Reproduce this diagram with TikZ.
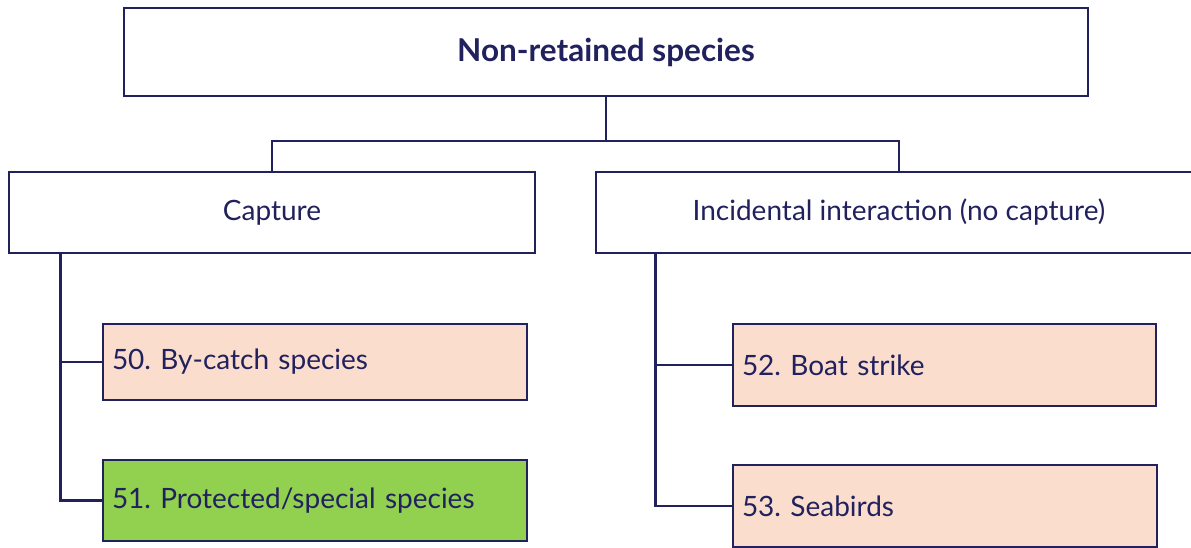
\documentclass[tikz,border=0pt]{standalone}
\usepackage{fontspec}
\setmainfont{Lato}
\usetikzlibrary{calc}
\definecolor{navy}{HTML}{21215E}
\definecolor{peach}{HTML}{FADDCD}
\definecolor{leafgreen}{HTML}{92D050}
\frenchspacing
\begin{document}
\begin{tikzpicture}[x=1pt,y=-1pt,
  box/.style={draw=navy,line width=2.8pt,fill=white,text=navy,font=\fontsize{28}{32}\selectfont,inner sep=0pt},
  leaf/.style={box,fill=peach,align=left,inner xsep=9pt},
  link/.style={draw=navy,line width=2.8pt}]
\useasboundingbox (0,0) rectangle (1191,547);
\node[box,minimum width=964pt,minimum height=88pt,font=\fontsize{31.5}{36}\selectfont\bfseries] (top) at (606,52) {Non-retained species};
\node[box,minimum width=526pt,minimum height=81pt] (cap) at (272,212.5) {Capture};
\node[box,minimum width=606pt,minimum height=81pt] (inc) at (899,212.5) {Incidental interaction (no capture)};
\node[leaf,minimum height=76pt,text width=406pt] (b50) at (315,362) {50. By-catch species};
\node[leaf,fill=leafgreen,minimum height=81pt,text width=406pt] (b51) at (315,500.5) {51. Protected/special species};
\node[leaf,minimum height=82pt,text width=405pt] (b52) at (944.5,365) {52. Boat strike};
\node[leaf,minimum height=82pt,text width=406pt] (b53) at (945,506) {53. Seabirds};
\coordinate (j) at (606,141);
\coordinate (tl) at ($(cap.south west)+(53,0)$);
\coordinate (tr) at ($(inc.south west)+(61,0)$);
\draw[link] (top.south) -- (j);
\draw[link] (j) -| (cap.north);
\draw[link] (j) -| (inc.north);
\draw[link] (tl) |- (b50.west);
\draw[link] (tl) |- (b51.west);
\draw[link] (tr) |- (b52.west);
\draw[link] (tr) |- (b53.west);
\end{tikzpicture}
\end{document}
